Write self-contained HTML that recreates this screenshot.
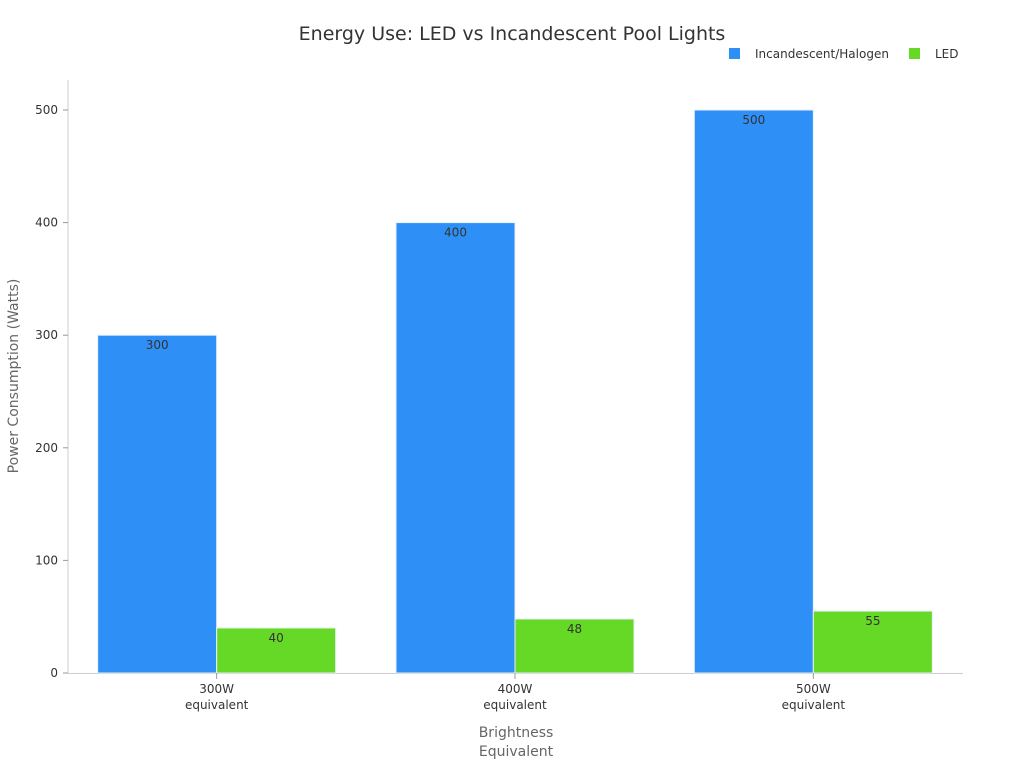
<!DOCTYPE html>
<html><head><meta charset="utf-8"><style>
body{margin:0;background:#fff;}
text{font-family:"DejaVu Sans","Liberation Sans",sans-serif;}
</style></head><body>
<svg id="chart" width="1024" height="768" xmlns="http://www.w3.org/2000/svg">
<text x="512" y="40" text-anchor="middle" font-size="19" fill="#333">Energy Use: LED vs Incandescent Pool Lights</text>
<g>
<rect x="729" y="48" width="11" height="11" fill="#2e90f7"/>
<text x="755" y="58" font-size="12" fill="#333">Incandescent/Halogen</text>
<rect x="909" y="48" width="11" height="11" fill="#66d926"/>
<text x="935" y="58" font-size="12" fill="#333">LED</text>
</g>
<line x1="68" y1="80" x2="68" y2="673" stroke="#ccc"/>
<line x1="68" y1="673.5" x2="963" y2="673.5" stroke="#ccc"/>
<g id="yticks"></g><g id="bars"></g><g id="xticks"></g>
<text transform="translate(18,376) rotate(-90)" text-anchor="middle" font-size="14" fill="#666">Power Consumption (Watts)</text>
<text x="516" y="737" text-anchor="middle" font-size="14" fill="#666"><tspan x="516">Brightness</tspan><tspan x="516" dy="19">Equivalent</tspan></text>
</svg>
<script>
const categories=["300W equivalent","400W equivalent","500W equivalent"];
const incandescent=[300,400,500];
const led=[40,48,55];
const yTicks=[0,100,200,300,400,500];
const NS="http://www.w3.org/2000/svg";
const y0=673,yTop=110,vMax=500,x0=68,x1=963;
function yS(v){return y0-(v/vMax)*(y0-yTop);}
const band=(x1-x0)/categories.length;
function xC(i){return x0+band*(i+0.5)-0.5;}
const bw=119;
function mk(t,a,p){const e=document.createElementNS(NS,t);for(const k in a)e.setAttribute(k,a[k]);p.appendChild(e);return e;}
const yt=document.getElementById('yticks');
yTicks.forEach(v=>{
 const l=mk('line',{x1:63,x2:68,y1:yS(v),y2:yS(v),stroke:'#999'},yt);
 
 
 const t=mk('text',{x:58,y:yS(v)+4,'text-anchor':'end','font-size':12,fill:'#333'},yt);
 
 
 t.textContent=v;
});
const bg=document.getElementById('bars'),xt=document.getElementById('xticks');
categories.forEach((c,i)=>{
 const cx=xC(i);
 [[incandescent[i],'#2e90f7',cx-bw,'bar-incandescent'],[led[i],'#66d926',cx,'bar-led']].forEach(([v,col,x,n])=>{
  const r=mk('rect',{x:x,y:yS(v),width:bw,height:y0-yS(v),fill:col,stroke:'#e8f0fa','stroke-width':1},bg);
  
  
  const t=mk('text',{x:x+bw/2,y:yS(v)+14,'text-anchor':'middle','font-size':12,fill:'#333'},bg);
  
  
  t.textContent=v;
 });
 const tl=mk('line',{x1:cx,x2:cx,y1:673,y2:679,stroke:'#999'},xt);
 
 
 const parts=c.split(' ');
 const t=mk('text',{x:cx,y:693,'text-anchor':'middle','font-size':12,fill:'#333'},xt);
 
 
 const a=mk('tspan',{x:cx},t);a.textContent=parts[0];
 const b=mk('tspan',{x:cx,dy:16},t);b.textContent=parts[1];
});
</script>
</body></html>
